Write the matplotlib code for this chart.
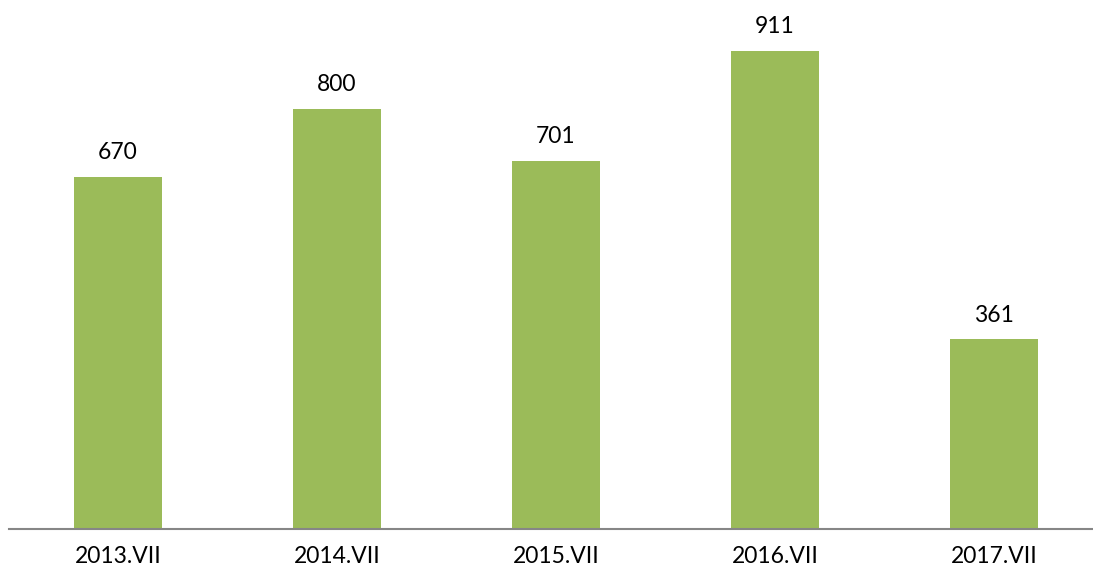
import matplotlib.pyplot as plt

categories = ['2013.VII', '2014.VII', '2015.VII', '2016.VII', '2017.VII']
values = [670, 800, 701, 911, 361]

plt.rcParams['font.family'] = ['Lato', 'DejaVu Sans']

fig = plt.figure(figsize=(10.93, 5.73), dpi=100)
# axes spans a bit past the right edge, like the cropped original
ax = fig.add_axes([8.5 / 1093, 44 / 573, 1095 / 1093, 525 / 573])

x = range(len(categories))
ax.bar(x, values, width=0.4, color='#9BBB59')
ax.set_xlim(-0.5, len(categories) - 0.5)
ax.set_ylim(0, 1000)

for i, v in enumerate(values):
    ax.annotate(str(v), (i, v), xytext=(0, 10), textcoords='offset points',
                ha='center', va='bottom', fontsize=16.5, color='black')

ax.set_xticks(list(x))
ax.set_xticklabels(categories, fontsize=16.5)
ax.tick_params(axis='x', length=0, pad=12)
ax.set_yticks([])
for side in ['top', 'right', 'left']:
    ax.spines[side].set_visible(False)
ax.spines['bottom'].set_color('#868686')
ax.spines['bottom'].set_linewidth(1.5)

fig.savefig('out.png', dpi=100)
